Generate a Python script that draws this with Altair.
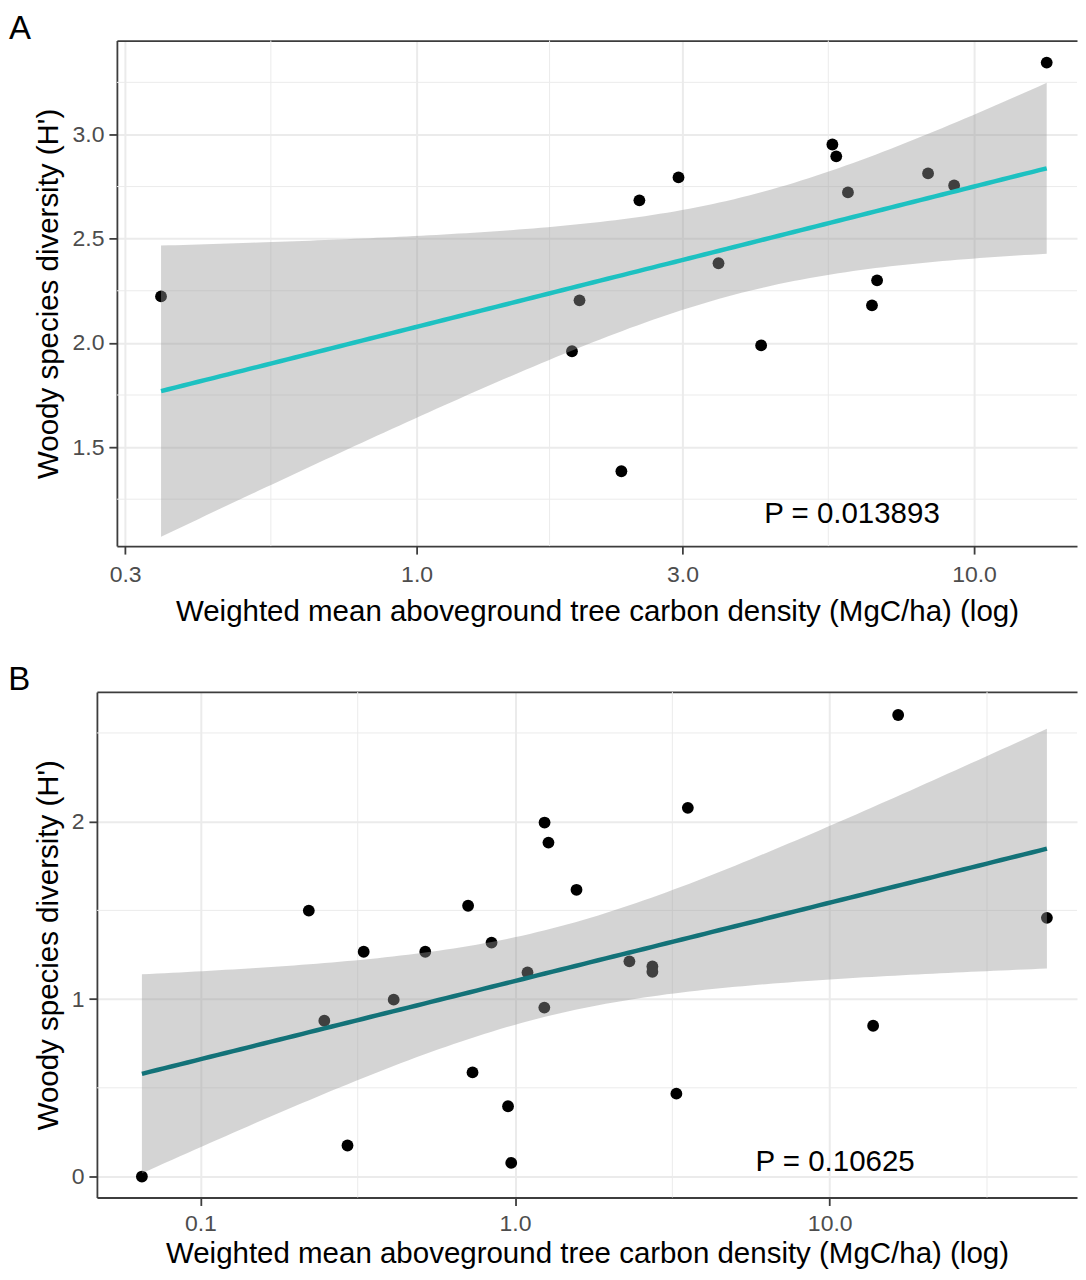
import math
import numpy as np
import pandas as pd
import altair as alt

FONT = "Liberation Sans"

# ---------------- data ----------------
# Panel A
a_carbon = [0.348, 1.90, 1.96, 2.33, 2.51, 2.95, 3.48, 4.15, 5.57, 5.66, 5.94, 6.56, 6.70, 8.27, 9.21, 13.5]
a_diversity = [2.223, 1.960, 2.204, 1.384, 2.684, 2.794, 2.382, 1.988, 2.952, 2.895, 2.722, 2.180, 2.300, 2.813, 2.755, 3.345]
a_p_text = ["P = 0.013893"]
a_p_x = [6.04]
a_p_y = [1.135]

# Panel B
b_carbon = [0.0652, 0.2211, 0.2477, 0.2935, 0.3304, 0.4115, 0.5184, 0.7093, 0.7327, 0.842,
            0.950, 0.9726, 1.0956, 1.239, 1.241, 1.277, 1.568, 2.309, 2.732, 2.732,
            3.256, 3.541, 13.74, 16.50, 49.0]
b_diversity = [0.0, 1.499, 0.878, 0.175, 1.267, 0.997, 1.267, 1.526, 0.587, 1.318,
               0.396, 0.077, 1.150, 0.952, 1.995, 1.882, 1.616, 1.213, 1.184, 1.154,
               0.467, 2.078, 0.850, 2.601, 1.458]
b_p_text = ["P = 0.10625"]
b_p_x = [10.4]
b_p_y = [0.03]

# axes
x_title = "Weighted mean aboveground tree carbon density (MgC/ha) (log)"
y_title = "Woody species diversity (H')"
a_x_ticks = [0.3, 1.0, 3.0, 10.0]
a_x_minor = [0.5477, 1.732, 5.477]
a_y_ticks = [1.5, 2.0, 2.5, 3.0]
a_y_minor = [1.25, 1.75, 2.25, 2.75, 3.25]
a_x_domain = [0.290, 15.30]
a_y_domain = [1.025, 3.4506]

b_x_ticks = [0.1, 1.0, 10.0]
b_x_minor = [0.3162, 3.162, 31.62]
b_y_ticks = [0, 1, 2]
b_y_minor = [0.5, 1.5, 2.5]
b_x_domain = [0.04691, 61.07]
b_y_domain = [-0.118, 2.731]

# layout
PANEL_W = 981
PANEL_H = 506
A_INSET = 20   # panel A's plot starts further right (wider y tick labels)


# ---------------- linear fit on log10(x) with 95% CI ----------------
def t_quantile_975(df):
    c = math.gamma((df + 1) / 2) / (math.sqrt(df * math.pi) * math.gamma(df / 2))
    trap = getattr(np, "trapezoid", None) or getattr(np, "trapz")

    def cdf(t):
        xs = np.linspace(0.0, t, 4001)
        pdf = c * (1 + xs ** 2 / df) ** (-(df + 1) / 2)
        return 0.5 + trap(pdf, xs)

    lo, hi = 0.0, 20.0
    for _ in range(80):
        mid = (lo + hi) / 2
        if cdf(mid) < 0.975:
            lo = mid
        else:
            hi = mid
    return (lo + hi) / 2


def fit_band(xv, yv, n_grid=120):
    lx = np.log10(np.asarray(xv, dtype=float))
    y = np.asarray(yv, dtype=float)
    n = len(lx)
    mx = lx.mean()
    sxx = ((lx - mx) ** 2).sum()
    slope = ((lx - mx) * (y - y.mean())).sum() / sxx
    icpt = y.mean() - slope * mx
    resid = y - (icpt + slope * lx)
    s = math.sqrt((resid ** 2).sum() / (n - 2))
    tq = t_quantile_975(n - 2)
    g = np.linspace(lx.min(), lx.max(), n_grid)
    f = icpt + slope * g
    se = s * np.sqrt(1.0 / n + (g - mx) ** 2 / sxx)
    return pd.DataFrame({"x": 10 ** g, "fit": f, "lo": f - tq * se, "hi": f + tq * se})


GRID = "#ebebeb"
BORDER = "#3d3d3d"


def panel(letter, xs, ys, x_dom, y_dom, x_ticks, x_minor, y_ticks, y_minor,
          y_fmt, line_color, p_text, p_x, p_y, inset, x_label_pad, x_title_pad):
    xsc = alt.Scale(type="log", domain=x_dom, nice=False, range=[inset, PANEL_W])
    ysc = alt.Scale(domain=y_dom, nice=False, zero=False)
    yaxis = alt.Axis(values=y_ticks, format=y_fmt, title=y_title, grid=True,
                     gridColor=GRID, gridWidth=2, domain=True, domainColor=BORDER,
                     domainWidth=1.8, ticks=True, tickColor=BORDER, tickWidth=1.8,
                     tickSize=8, labelFont=FONT, labelFontSize=23, labelColor="#4d4d4d",
                     labelPadding=5, titleFont=FONT, titleFontSize=29.5,
                     titleFontWeight="normal", titleColor="black", titlePadding=8,
                     offset=-inset)
    xaxis = alt.Axis(values=x_ticks, format=".1f", title=x_title, grid=True,
                     gridColor=GRID, gridWidth=2, domain=True, domainColor=BORDER,
                     domainWidth=1.8, ticks=True, tickColor=BORDER, tickWidth=1.8,
                     tickSize=8, labelFont=FONT, labelFontSize=23, labelColor="#4d4d4d",
                     labelPadding=x_label_pad, titleFont=FONT, titleFontSize=29.5,
                     titleFontWeight="normal", titleColor="black",
                     titlePadding=x_title_pad)
    top_axis = alt.Axis(orient="top", labels=False, ticks=False, grid=False, title=None,
                        domain=True, domainColor=BORDER, domainWidth=1.8,
                        minExtent=0, maxExtent=0, offset=0, labelPadding=0, tickSize=0)

    pts = pd.DataFrame({"x": xs, "y": ys})
    band = fit_band(xs, ys)
    ptxt = pd.DataFrame({"x": p_x, "y": p_y, "label": p_text})
    ymin = pd.DataFrame({"v": y_minor, "x0": x_dom[0], "x1": x_dom[1]})

    xminor = alt.Chart(pd.DataFrame({"v": x_minor})).mark_rule(
        color=GRID, strokeWidth=1).encode(x=alt.X("v:Q", scale=xsc, axis=top_axis))
    yminor = alt.Chart(ymin).mark_rule(color=GRID, strokeWidth=1).encode(
        x=alt.X("x0:Q", scale=xsc, axis=None), x2="x1:Q",
        y=alt.Y("v:Q", scale=ysc, axis=yaxis))
    points = alt.Chart(pts).mark_circle(size=140, color="black", opacity=1).encode(
        x=alt.X("x:Q", scale=xsc, axis=xaxis),
        y=alt.Y("y:Q", scale=ysc, axis=yaxis))
    area = alt.Chart(band).mark_area(color="#999999", opacity=0.42).encode(
        x=alt.X("x:Q", scale=xsc, axis=None),
        y=alt.Y("lo:Q", scale=ysc, axis=yaxis),
        y2="hi:Q")
    line = alt.Chart(band).mark_line(color=line_color, strokeWidth=4.5).encode(
        x=alt.X("x:Q", scale=xsc, axis=None),
        y=alt.Y("fit:Q", scale=ysc, axis=yaxis))
    text = alt.Chart(ptxt).mark_text(font=FONT, fontSize=29.5, color="black",
                                     align="center", baseline="alphabetic").encode(
        x=alt.X("x:Q", scale=xsc, axis=None),
        y=alt.Y("y:Q", scale=ysc, axis=yaxis),
        text="label:N")

    return alt.layer(xminor, yminor, points, area, line, text).resolve_axis(
        x="independent").properties(
        width=PANEL_W, height=PANEL_H,
        title=alt.TitleParams(text=letter, anchor="start", frame="bounds", font=FONT,
                              fontSize=33, fontWeight="normal", color="black",
                              dx=-25, dy=3, offset=-3))


pa = panel("A", a_carbon, a_diversity, a_x_domain, a_y_domain, a_x_ticks, a_x_minor,
           a_y_ticks, a_y_minor, ".1f", "#1DC1C1", a_p_text, a_p_x, a_p_y, A_INSET, 9, 11)
pb = panel("B", b_carbon, b_diversity, b_x_domain, b_y_domain, b_x_ticks, b_x_minor,
           b_y_ticks, b_y_minor, "d", "#137278", b_p_text, b_p_x, b_p_y, 0, 7, 4)

chart = alt.vconcat(pa, pb, spacing=38).properties(
    padding={"left": 0, "top": 4, "right": 0, "bottom": 0},
    background="white").configure_view(stroke=None)

chart.save("out.html", embed_options={"renderer": "svg", "actions": False})
